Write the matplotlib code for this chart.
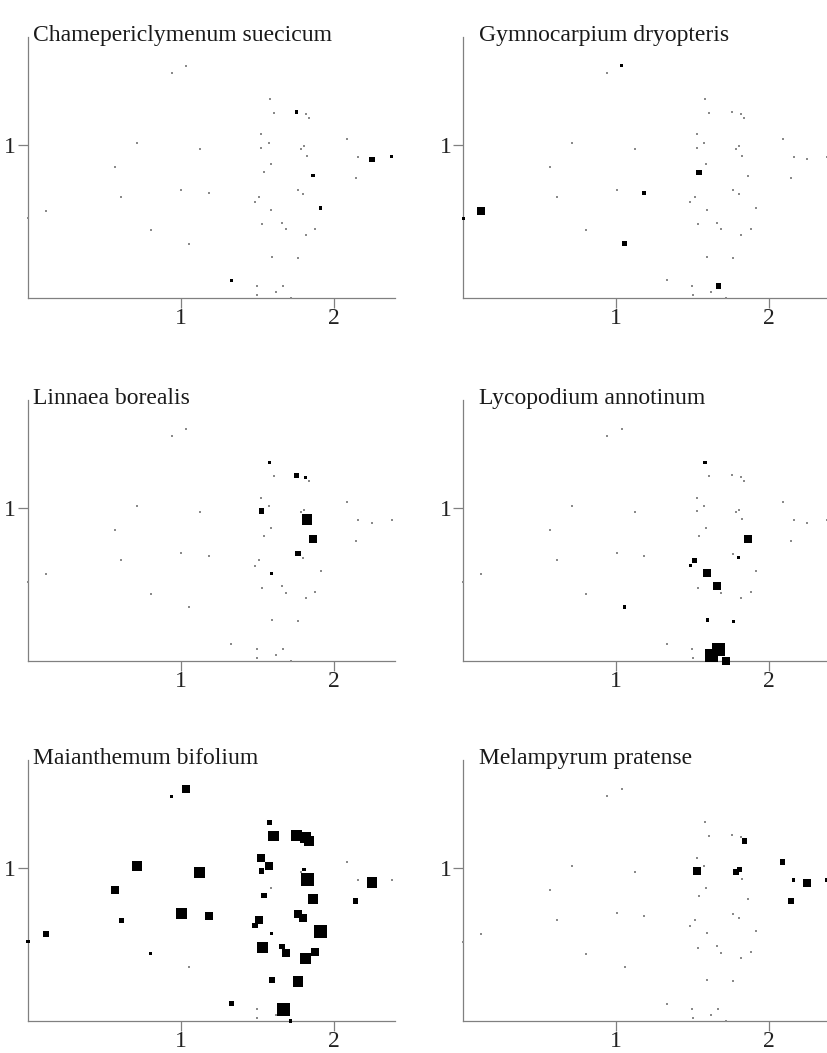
import matplotlib

matplotlib.use("Agg")

from matplotlib import pyplot as plt
import numpy as np

# Ordination scores of the 50 plots (axis 1, axis 2)
site_x = [
    1.035, 0.939, 1.580, 1.606, 1.754, 1.815, 1.837, 0.712, 1.122, 1.525,
    1.573, 1.525, 1.782, 1.804, 1.824, 2.087, 2.159, 2.248, 2.377, 2.142,
    0.569, 1.586, 1.542, 1.863, 1.002, 1.181, 0.610, 1.765, 1.800, 1.512,
    1.484, 0.118, 1.590, 1.913, 0.000, 0.802, 1.532, 1.660, 1.684, 1.878,
    1.815, 1.054, 1.595, 1.765, 1.329, 1.497, 1.667, 1.499, 1.619, 1.717,
]
site_y = [
    1.516, 1.468, 1.298, 1.209, 1.214, 1.200, 1.176, 1.013, 0.972, 1.068,
    1.011, 0.980, 0.974, 0.989, 0.926, 1.039, 0.922, 0.904, 0.922, 0.784,
    0.856, 0.871, 0.819, 0.797, 0.704, 0.684, 0.658, 0.702, 0.675, 0.658,
    0.623, 0.569, 0.573, 0.586, 0.519, 0.440, 0.479, 0.488, 0.447, 0.449,
    0.410, 0.353, 0.268, 0.259, 0.113, 0.078, 0.078, 0.020, 0.037, 0.000,
]

species = [
    "Chamepericlymenum suecicum",
    "Gymnocarpium dryopteris",
    "Linnaea borealis",
    "Lycopodium annotinum",
    "Maianthemum bifolium",
    "Melampyrum pratense",
]

# cover class per plot, 0 = absent
chamepericlymenum = [
    0, 0, 0, 0, 1, 0, 0, 0, 0, 0,
    0, 0, 0, 0, 0, 0, 0, 2, 1, 0,
    0, 0, 0, 1, 0, 0, 0, 0, 0, 0,
    0, 0, 0, 1, 0, 0, 0, 0, 0, 0,
    0, 0, 0, 0, 1, 0, 0, 0, 0, 0,
]
gymnocarpium = [
    1, 0, 0, 0, 0, 0, 0, 0, 0, 0,
    0, 0, 0, 0, 0, 0, 0, 0, 0, 0,
    0, 0, 2, 0, 0, 1, 0, 0, 0, 0,
    0, 3, 0, 0, 1, 0, 0, 0, 0, 0,
    0, 2, 0, 0, 0, 0, 2, 0, 0, 0,
]
linnaea = [
    0, 0, 1, 0, 2, 1, 0, 0, 0, 0,
    0, 2, 0, 0, 4, 0, 0, 0, 0, 0,
    0, 0, 0, 3, 0, 0, 0, 2, 0, 0,
    0, 0, 1, 0, 0, 0, 0, 0, 0, 0,
    0, 0, 0, 0, 0, 0, 0, 0, 0, 0,
]
lycopodium = [
    0, 0, 1, 0, 0, 0, 0, 0, 0, 0,
    0, 0, 0, 0, 0, 0, 0, 0, 0, 0,
    0, 0, 0, 3, 0, 0, 0, 0, 1, 2,
    1, 0, 3, 0, 0, 0, 0, 3, 0, 0,
    0, 1, 1, 1, 0, 0, 5, 0, 5, 3,
]
maianthemum = [
    3, 1, 2, 4, 4, 4, 4, 4, 4, 3,
    3, 2, 0, 1, 5, 0, 0, 4, 0, 2,
    3, 0, 2, 4, 4, 3, 2, 3, 3, 3,
    2, 2, 1, 5, 1, 1, 4, 2, 3, 3,
    4, 0, 2, 4, 2, 0, 5, 0, 0, 1,
]
melampyrum = [
    0, 0, 0, 0, 0, 0, 2, 0, 0, 0,
    0, 3, 2, 2, 0, 2, 1, 3, 1, 2,
    0, 0, 0, 0, 0, 0, 0, 0, 0, 0,
    0, 0, 0, 0, 0, 0, 0, 0, 0, 0,
    0, 0, 0, 0, 0, 0, 0, 0, 0, 0,
]
abundance = [chamepericlymenum, gymnocarpium, linnaea, lycopodium, maianthemum, melampyrum]

# square side (pixels) for each cover class
side_px = np.array([1.4, 3.4, 5.5, 8.0, 10.5, 13.0])

plt.rcParams["font.family"] = ["Liberation Serif", "DejaVu Serif"]

W, H = 827, 1053
fig = plt.figure(figsize=(W / 100, H / 100), dpi=100)

unit = 153.0  # pixels per ordination unit
col_left = [28.0, 463.3]
row_bottom = [297.7, 661.0, 1021.0]
title_dx = [5, 16]
xmax, ymax = 2.4, 1.706

sx = np.array(site_x)
sy = np.array(site_y)

for i, name in enumerate(species):
    r, c = divmod(i, 2)
    left = col_left[c]
    bottom = row_bottom[r]
    ax = fig.add_axes(
        [left / W, (H - bottom) / H, xmax * unit / W, ymax * unit / H]
    )
    ax.set_xlim(0, xmax)
    ax.set_ylim(0, ymax)

    ab = np.array(abundance[i])
    size_pt = side_px[ab] * 0.72
    order = np.argsort(ab)

    # plots without the species as faint grey specks
    absent = ab == 0
    ax.scatter(
        sx[absent], sy[absent], s=(side_px[0] * 0.72) ** 2, marker="s",
        c="#8a8a8a", linewidths=0, clip_on=False, zorder=3,
    )
    present = order[ab[order] > 0]
    ax.scatter(
        sx[present], sy[present], s=size_pt[present] ** 2, marker="s",
        c="black", linewidths=0, clip_on=False, zorder=4,
    )

    for side in ("top", "right"):
        ax.spines[side].set_visible(False)
    for side in ("left", "bottom"):
        ax.spines[side].set_color("#808080")
        ax.spines[side].set_linewidth(0.9)

    ax.set_xticks([1, 2])
    ax.set_yticks([1])
    ax.tick_params(
        direction="out", length=7, width=0.9, color="#808080",
        labelsize=17, labelcolor="#222222", pad=1.5,
    )
    ax.tick_params(axis="x", pad=0.5)

    ax.text(
        title_dx[c] / (xmax * unit), 1 - 4 / (ymax * unit), name,
        transform=ax.transAxes, fontsize=17, color="#1a1a1a",
        ha="left", va="baseline",
    )

fig.savefig("out.png", dpi=100, facecolor="white")
